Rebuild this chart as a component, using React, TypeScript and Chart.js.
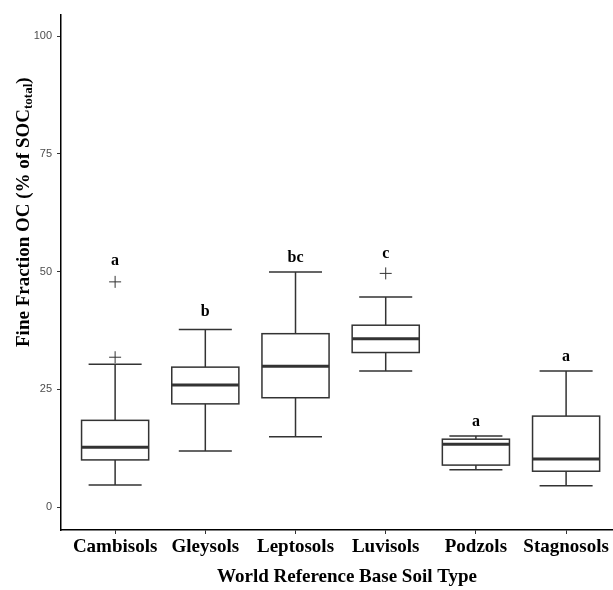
import { useEffect, useRef } from 'react';
import { Chart, registerables } from 'chart.js';

Chart.register(...registerables);

const categories = ['Cambisols', 'Gleysols', 'Leptosols', 'Luvisols', 'Podzols', 'Stagnosols'];
const lowerWhisker = [4.7, 11.9, 14.9, 28.9, 7.9, 4.5];
const q1 = [10.0, 21.9, 23.2, 32.8, 8.9, 7.6];
const median = [12.7, 25.9, 29.9, 35.7, 13.3, 10.2];
const q3 = [18.4, 29.7, 36.8, 38.6, 14.4, 19.3];
const upperWhisker = [30.3, 37.7, 49.9, 44.6, 15.1, 28.9];
const outlierCategory = [0, 0, 3];
const outlierValues = [47.8, 31.8, 49.6];
const letters = ['a', 'b', 'bc', 'c', 'a', 'a'];
const letterValues = [51.4, 40.6, 52.1, 52.8, 17.3, 31.0];
const yTicks = [0, 25, 50, 75, 100];

const SERIF = '"Liberation Serif", "Times New Roman", serif';

const boxPlugin = {
  id: 'boxes',
  beforeDatasetsDraw(chart: any) {
    const { ctx, scales } = chart;
    const xs = scales.x;
    const ys = scales.y;
    const boxHalf = 0.372;
    const capHalf = 0.294;
    ctx.save();
    ctx.strokeStyle = '#333333';
    ctx.lineCap = 'butt';
    categories.forEach((_, i) => {
      const xl = xs.getPixelForValue(i - boxHalf);
      const xr = xs.getPixelForValue(i + boxHalf);
      const xc = xs.getPixelForValue(i);
      const cl = xs.getPixelForValue(i - capHalf);
      const cr = xs.getPixelForValue(i + capHalf);
      const yLo = ys.getPixelForValue(lowerWhisker[i]);
      const yQ1 = ys.getPixelForValue(q1[i]);
      const yMed = ys.getPixelForValue(median[i]);
      const yQ3 = ys.getPixelForValue(q3[i]);
      const yHi = ys.getPixelForValue(upperWhisker[i]);
      ctx.lineWidth = 1.5;
      ctx.beginPath();
      ctx.moveTo(xc, yLo);
      ctx.lineTo(xc, yQ1);
      ctx.moveTo(xc, yQ3);
      ctx.lineTo(xc, yHi);
      ctx.moveTo(cl, yLo);
      ctx.lineTo(cr, yLo);
      ctx.moveTo(cl, yHi);
      ctx.lineTo(cr, yHi);
      ctx.stroke();
      ctx.fillStyle = '#ffffff';
      ctx.fillRect(xl, yQ3, xr - xl, yQ1 - yQ3);
      ctx.strokeRect(xl, yQ3, xr - xl, yQ1 - yQ3);
      ctx.lineWidth = 3;
      ctx.beginPath();
      ctx.moveTo(xl, yMed);
      ctx.lineTo(xr, yMed);
      ctx.stroke();
    });
    ctx.restore();
  },
  afterDatasetsDraw(chart: any) {
    const { ctx, scales } = chart;
    ctx.save();
    ctx.fillStyle = '#000000';
    ctx.font = `bold 16px ${SERIF}`;
    ctx.textAlign = 'center';
    ctx.textBaseline = 'alphabetic';
    letters.forEach((l, i) => {
      ctx.fillText(l, scales.x.getPixelForValue(i), scales.y.getPixelForValue(letterValues[i]));
    });
    ctx.restore();
  },
  afterDraw(chart: any) {
    const { ctx } = chart;
    ctx.save();
    ctx.translate(29, 347);
    ctx.rotate(-Math.PI / 2);
    ctx.fillStyle = '#000000';
    ctx.textAlign = 'left';
    ctx.textBaseline = 'alphabetic';
    ctx.font = `bold 19px ${SERIF}`;
    const main = 'Fine Fraction OC (% of SOC';
    ctx.fillText(main, 0, 0);
    let x = ctx.measureText(main).width;
    ctx.font = `bold 13px ${SERIF}`;
    ctx.fillText('total', x, 3);
    x += ctx.measureText('total').width;
    ctx.font = `bold 19px ${SERIF}`;
    ctx.fillText(')', x, 0);
    ctx.restore();

    ctx.save();
    ctx.fillStyle = '#000000';
    ctx.font = `bold 19px ${SERIF}`;
    ctx.textAlign = 'center';
    ctx.textBaseline = 'alphabetic';
    ctx.fillText('World Reference Base Soil Type', 347, 582);
    ctx.restore();
  },
};

export default function App() {
  const ref = useRef<HTMLCanvasElement>(null);
  useEffect(() => {
    if (!ref.current) return;
    const chart = new Chart(ref.current, {
      type: 'scatter',
      data: {
        datasets: [
          {
            label: 'Outliers',
            data: outlierValues.map((v, i) => ({ x: outlierCategory[i], y: v })),
            pointStyle: 'cross',
            radius: 6,
            borderColor: '#333333',
            borderWidth: 1,
            backgroundColor: '#333333',
          },
        ],
      },
      plugins: [boxPlugin],
      options: {
        animation: false,
        responsive: true,
        maintainAspectRatio: false,
        layout: { autoPadding: false, padding: { top: 15, left: 0, right: 0, bottom: 0 } },
        plugins: {
          legend: { display: false },
          tooltip: { enabled: false },
        },
        scales: {
          x: {
            type: 'linear',
            min: -0.6,
            max: 5.52,
            afterBuildTicks: (s: any) => {
              s.ticks = categories.map((_, i) => ({ value: i }));
            },
            afterFit: (s: any) => {
              s.height = 60;
              s.paddingLeft = 0;
              s.paddingRight = 0;
            },
            ticks: {
              autoSkip: false,
              maxRotation: 0,
              padding: 2,
              color: '#000000',
              font: { family: SERIF, size: 19, weight: 'bold' },
              callback: (v: any) => categories[v] ?? '',
            },
            grid: { drawOnChartArea: false, drawTicks: true, tickLength: 4, color: '#333333', lineWidth: 1 },
            border: { display: true, color: '#000000', width: 1.5 },
          },
          y: {
            type: 'linear',
            min: -4.88,
            max: 104.46,
            afterBuildTicks: (s: any) => {
              s.ticks = yTicks.map((v) => ({ value: v }));
            },
            afterFit: (s: any) => {
              s.width = 61;
              s.paddingTop = 0;
              s.paddingBottom = 0;
            },
            ticks: {
              padding: 5,
              color: '#4d4d4d',
              font: { family: '"Liberation Sans", Arial, sans-serif', size: 11 },
            },
            grid: { drawOnChartArea: false, drawTicks: true, tickLength: 4, color: '#333333', lineWidth: 1 },
            border: { display: true, color: '#000000', width: 1.5 },
          },
        },
      },
    } as any);
    return () => chart.destroy();
  }, []);
  return (
    <div style={{ position: 'absolute', left: 0, top: 0, width: 613, height: 590, background: '#ffffff' }}>
      <canvas ref={ref} />
    </div>
  );
}
